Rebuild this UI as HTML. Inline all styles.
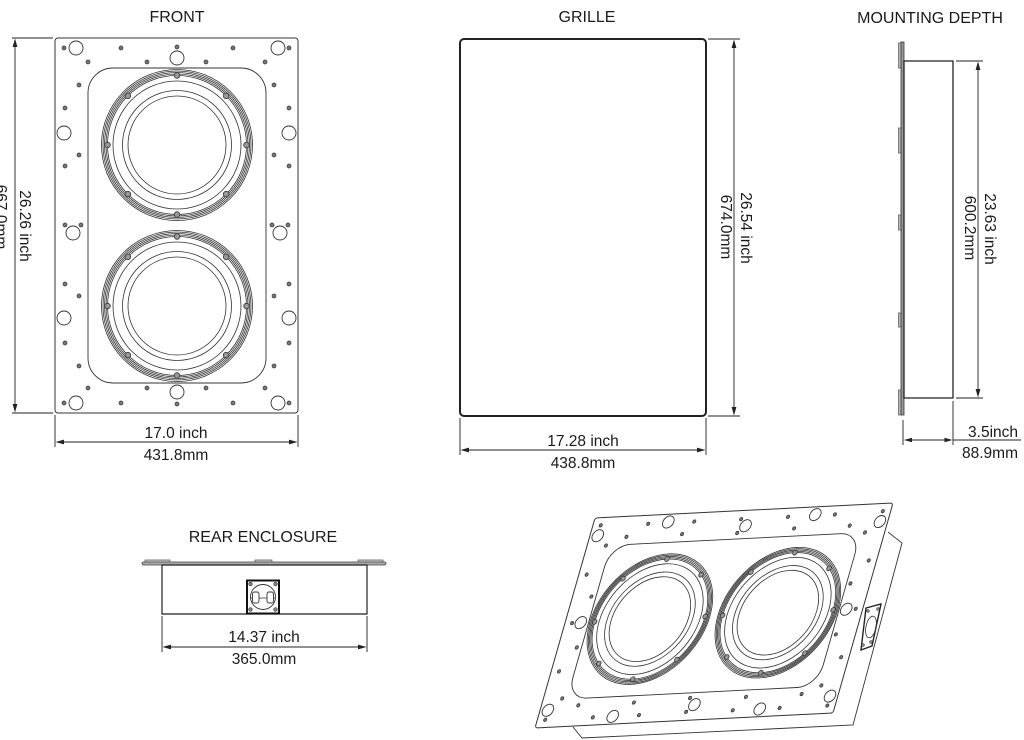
<!DOCTYPE html>
<html>
<head>
<meta charset="utf-8">
<style>
html,body{margin:0;padding:0;background:#fff;}
body{width:1024px;height:740px;overflow:hidden;}
svg{display:block;}
svg *{vector-effect:non-scaling-stroke;}
.t{font-family:"Liberation Sans",Arial,sans-serif;font-size:16px;fill:#1a1a1a;}
.d{font-family:"Liberation Sans",Arial,sans-serif;font-size:15.5px;fill:#1a1a1a;}
.ln{stroke:#222;stroke-width:0.9;fill:none;}
.ar{fill:#222;stroke:none;}
</style>
</head>
<body>
<svg width="1024" height="740" viewBox="0 0 1024 740" xmlns="http://www.w3.org/2000/svg">
<defs>
  <g id="spk">
    <g fill="none" stroke="#333" stroke-width="0.8">
      <circle r="75.5"/><circle r="74"/><circle r="72.5"/><circle r="71"/><circle r="69.5"/>
      <circle r="64"/><circle r="54.5"/><circle r="49"/>
    </g>
    <g fill="#999" stroke="#333" stroke-width="0.8">
      <circle cx="69.5" cy="0" r="2.8"/><circle cx="49.1" cy="49.1" r="2.8"/>
      <circle cx="0" cy="69.5" r="2.8"/><circle cx="-49.1" cy="49.1" r="2.8"/>
      <circle cx="-69.5" cy="0" r="2.8"/><circle cx="-49.1" cy="-49.1" r="2.8"/>
      <circle cx="0" cy="-69.5" r="2.8"/><circle cx="49.1" cy="-49.1" r="2.8"/>
    </g>
  </g>
  <g id="plate">
    <rect x="55" y="38" width="243" height="375" rx="3" fill="#fff" stroke="#333" stroke-width="1"/>
    <rect x="88" y="68" width="178" height="315" rx="25" fill="#fff" stroke="#333" stroke-width="0.9"/>
    <use href="#spk" transform="translate(177,145)"/>
    <use href="#spk" transform="translate(177,306)"/>
    <g fill="#fff" stroke="#333" stroke-width="0.9">
      <circle cx="76" cy="48" r="7"/><circle cx="177" cy="58" r="7"/><circle cx="278" cy="48" r="7"/>
      <circle cx="64" cy="133" r="7"/><circle cx="289" cy="133" r="7"/>
      <circle cx="73" cy="233" r="7"/><circle cx="280" cy="233" r="7"/>
      <circle cx="64" cy="318" r="7"/><circle cx="289" cy="318" r="7"/>
      <circle cx="177" cy="392" r="7"/><circle cx="76" cy="403" r="7"/><circle cx="278" cy="403" r="7"/>
    </g>
    <g fill="#777" stroke="#333" stroke-width="0.7">
      <circle cx="64" cy="48" r="2"/><circle cx="289" cy="48" r="2"/><circle cx="177" cy="47" r="2"/>
      <circle cx="65" cy="225" r="2"/><circle cx="81" cy="225" r="2"/><circle cx="272" cy="225" r="2"/><circle cx="288" cy="225" r="2"/>
      <circle cx="177" cy="404" r="2"/><circle cx="64" cy="403" r="2"/><circle cx="289" cy="403" r="2"/>
      <circle cx="121" cy="48" r="2"/><circle cx="233" cy="48" r="2"/>
      <circle cx="88" cy="62" r="2"/><circle cx="147" cy="62" r="2"/><circle cx="206" cy="62" r="2"/><circle cx="265" cy="62" r="2"/>
      <circle cx="79" cy="85" r="2"/><circle cx="274" cy="85" r="2"/>
      <circle cx="65" cy="108" r="2"/><circle cx="289" cy="108" r="2"/>
      <circle cx="79" cy="155" r="2"/><circle cx="274" cy="155" r="2"/>
      <circle cx="65" cy="166" r="2"/><circle cx="289" cy="166" r="2"/>
      <circle cx="65" cy="284" r="2"/><circle cx="289" cy="284" r="2"/>
      <circle cx="79" cy="296" r="2"/><circle cx="274" cy="296" r="2"/>
      <circle cx="65" cy="343" r="2"/><circle cx="289" cy="343" r="2"/>
      <circle cx="79" cy="366" r="2"/><circle cx="274" cy="366" r="2"/>
      <circle cx="88" cy="388" r="2"/><circle cx="147" cy="388" r="2"/><circle cx="206" cy="388" r="2"/><circle cx="265" cy="388" r="2"/>
      <circle cx="121" cy="403" r="2"/><circle cx="233" cy="403" r="2"/>
    </g>
  </g>
</defs>

<!-- ============ FRONT ============ -->
<text class="t" x="177" y="22" text-anchor="middle">FRONT</text>
<use href="#plate"/>
<path class="ln" d="M12,38 H53 M12,413 H53 M15,40 V411"/>
<path class="ar" d="M15,38.5 L12.6,47 L17.4,47 Z M15,412.5 L12.6,404 L17.4,404 Z"/>
<text class="d" text-anchor="middle" transform="translate(20,226) rotate(90)">26.26 inch</text>
<text class="d" text-anchor="middle" transform="translate(-4,217) rotate(90)">667.0mm</text>
<path class="ln" d="M55,415 V447 M298,415 V447 M57,442 H296"/>
<path class="ar" d="M55.5,442 L64,439.6 L64,444.4 Z M297.5,442 L289,439.6 L289,444.4 Z"/>
<text class="d" x="176" y="438" text-anchor="middle">17.0 inch</text>
<text class="d" x="176" y="460" text-anchor="middle">431.8mm</text>

<!-- ============ GRILLE ============ -->
<text class="t" x="587" y="22" text-anchor="middle">GRILLE</text>
<rect x="460" y="39" width="246" height="377" rx="4" fill="#fff" stroke="#222" stroke-width="2"/>
<path class="ln" d="M708,39 H740 M708,416 H740 M734,41 V414"/>
<path class="ar" d="M734,39.5 L731.6,48 L736.4,48 Z M734,415.5 L731.6,407 L736.4,407 Z"/>
<text class="d" text-anchor="middle" transform="translate(741,228) rotate(90)">26.54 inch</text>
<text class="d" text-anchor="middle" transform="translate(721,227) rotate(90)">674.0mm</text>
<path class="ln" d="M460,418 V455 M706,418 V455 M462,450 H704"/>
<path class="ar" d="M460.5,450 L469,447.6 L469,452.4 Z M705.5,450 L697,447.6 L697,452.4 Z"/>
<text class="d" x="583" y="446" text-anchor="middle">17.28 inch</text>
<text class="d" x="583" y="468" text-anchor="middle">438.8mm</text>

<!-- ============ MOUNTING DEPTH ============ -->
<text class="t" x="930" y="23" text-anchor="middle">MOUNTING DEPTH</text>
<g fill="#bbb" stroke="#555" stroke-width="0.7">
  <rect x="898.5" y="43" width="3" height="25"/>
  <rect x="898.5" y="128" width="3" height="25"/>
  <rect x="898.5" y="215" width="3" height="15"/>
  <rect x="898.5" y="313" width="3" height="14"/>
  <rect x="898.5" y="390" width="3" height="25"/>
</g>
<rect x="901" y="42" width="3" height="373" fill="#999" stroke="#333" stroke-width="0.8"/>
<rect x="904" y="61" width="49" height="337" fill="#fff" stroke="#222" stroke-width="1.3"/>
<path class="ln" d="M956,61 H983 M956,398 H983 M978,63 V396"/>
<path class="ar" d="M978,61.5 L975.6,70 L980.4,70 Z M978,397.5 L975.6,389 L980.4,389 Z"/>
<text class="d" text-anchor="middle" transform="translate(985,229) rotate(90)">23.63 inch</text>
<text class="d" text-anchor="middle" transform="translate(965,228) rotate(90)">600.2mm</text>
<path class="ln" d="M903,420 V445 M953,401 V445 M905,440 H951 M953,440 H1021"/>
<path class="ar" d="M904,440 L912,437.8 L912,442.2 Z M952.5,440 L944.5,437.8 L944.5,442.2 Z"/>
<text class="d" x="1018" y="437" text-anchor="end">3.5inch</text>
<text class="d" x="1018" y="458" text-anchor="end">88.9mm</text>

<!-- ============ REAR ENCLOSURE ============ -->
<text class="t" x="263" y="542" text-anchor="middle">REAR ENCLOSURE</text>
<g fill="#ccc" stroke="#555" stroke-width="0.7">
  <rect x="145" y="560" width="25" height="2.5"/>
  <rect x="255" y="560" width="17" height="2.5"/>
  <rect x="358" y="560" width="25" height="2.5"/>
</g>
<rect x="142" y="562" width="244" height="3" rx="1.5" fill="#aaa" stroke="#444" stroke-width="0.8"/>
<rect x="162" y="565" width="205" height="49" fill="#fff" stroke="#222" stroke-width="1.2"/>
<rect x="247" y="580.5" width="32" height="33" fill="#fff" stroke="#111" stroke-width="2"/>
<circle cx="263" cy="597" r="12.5" fill="none" stroke="#333" stroke-width="0.9"/>
<path d="M251,598 H275" stroke="#333" stroke-width="0.8"/>
<rect x="252.5" y="592" width="6.5" height="11" rx="2" fill="#fff" stroke="#333" stroke-width="0.9"/>
<rect x="267" y="592" width="6.5" height="11" rx="2" fill="#fff" stroke="#333" stroke-width="0.9"/>
<g fill="#888" stroke="#333" stroke-width="0.6">
  <circle cx="250.5" cy="584" r="1.8"/><circle cx="275.5" cy="584" r="1.8"/>
  <circle cx="250.5" cy="609.5" r="1.8"/><circle cx="275.5" cy="609.5" r="1.8"/>
</g>
<path class="ln" d="M162,616 V652 M367,616 V652 M164,647 H365"/>
<path class="ar" d="M162.5,647 L171,644.6 L171,649.4 Z M366.5,647 L358,644.6 L358,649.4 Z"/>
<text class="d" x="264" y="642" text-anchor="middle">14.37 inch</text>
<text class="d" x="264" y="664" text-anchor="middle">365.0mm</text>

<!-- ============ ISOMETRIC ============ -->
<path d="M573,727 L582,738 L853,725 L902,543 L888,532" fill="#fff" stroke="#333" stroke-width="0.9"/>
<path d="M866,608 L881,604 L872,646 L861,650 Z" fill="#fff" stroke="#222" stroke-width="1.4"/>
<ellipse cx="871" cy="627" rx="5" ry="11" transform="rotate(12 871 627)" fill="none" stroke="#333" stroke-width="0.8"/>
<g fill="#888" stroke="#333" stroke-width="0.5">
  <circle cx="868" cy="611" r="1.5"/><circle cx="878" cy="609" r="1.5"/>
  <circle cx="863" cy="645" r="1.5"/><circle cx="871" cy="642" r="1.5"/>
</g>
<use href="#plate" transform="matrix(-0.2469,0.864,0.7947,-0.04,578.38,472)"/>
</svg>
</body>
</html>
